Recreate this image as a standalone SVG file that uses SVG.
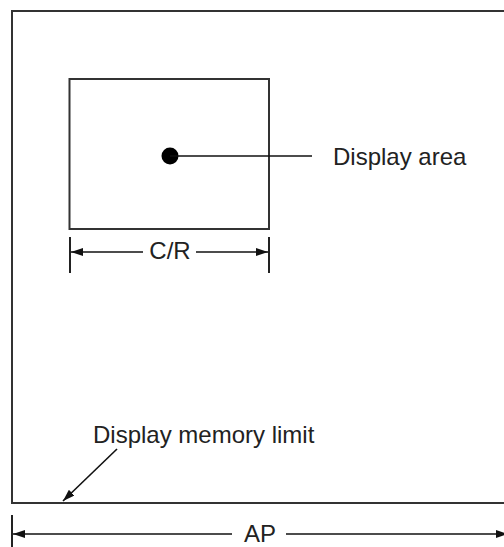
<svg xmlns="http://www.w3.org/2000/svg" width="504" height="547" viewBox="0 0 504 547">
<style>
.frame{fill:none;stroke:#333;stroke-width:2}
.ln{fill:none;stroke:#111;stroke-width:1.6}
.tick{stroke:#222;stroke-width:2}
.lbl{font-family:"Liberation Sans",Arial,sans-serif;font-size:24px;fill:#222}
</style>
<defs>
<marker id="ah" viewBox="0 0 12 8" refX="12" refY="4" markerWidth="12" markerHeight="8" markerUnits="userSpaceOnUse" orient="auto-start-reverse">
<path d="M0,0 L12,4 L0,8 Z" fill="#111"/>
</marker>
</defs>
<rect width="504" height="547" fill="#fff"/>
<g id="memory-frame">
<path class="frame" d="M512,11 L12,11 L12,503 L512,503"/>
</g>
<g id="display-area-box">
<rect class="frame" x="69.5" y="79" width="199.5" height="150"/>
<circle cx="170" cy="156" r="8.5" fill="#000"/>
</g>
<g id="labels">
<text class="lbl" x="333" y="165">Display area</text>
<text class="lbl" x="170" y="259" text-anchor="middle">C/R</text>
<text class="lbl" x="93" y="443">Display memory limit</text>
<text class="lbl" x="260" y="542" text-anchor="middle">AP</text>
</g>
<g id="connectors">
<line class="ln" x1="170" y1="156" x2="312" y2="156"/>
<line class="tick" x1="70" y1="237" x2="70" y2="273"/>
<line class="tick" x1="269" y1="237" x2="269" y2="273"/>
<line class="ln" x1="143" y1="252" x2="71" y2="252" marker-end="url(#ah)"/>
<line class="ln" x1="196" y1="252" x2="268" y2="252" marker-end="url(#ah)"/>
<line class="tick" x1="12" y1="515" x2="12" y2="547"/>
<line class="ln" x1="232" y1="534" x2="13" y2="534" marker-end="url(#ah)"/>
<line class="ln" x1="286" y1="534" x2="508" y2="534" marker-end="url(#ah)"/>
<line class="ln" x1="117" y1="449" x2="63" y2="501" marker-end="url(#ah)"/>
</g>
</svg>
